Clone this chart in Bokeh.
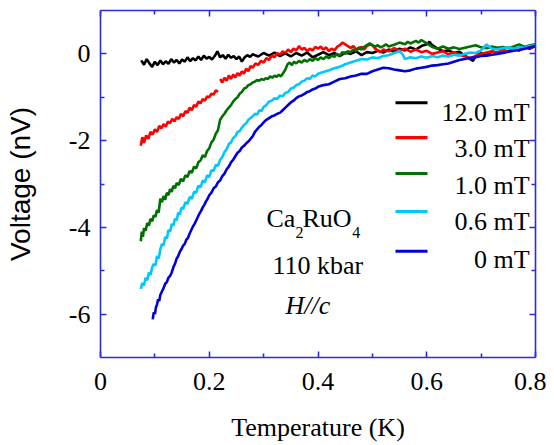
from bokeh.plotting import figure
from bokeh.models import (Range1d, LinearAxis, Label, BoxAnnotation, FixedTicker,
                          CustomJSTickFormatter, CustomLabelingPolicy)
from bokeh.embed import file_html
from bokeh.resources import INLINE

# ---------------- data ----------------
series_names = ["12.0 mT", "3.0 mT", "1.0 mT", "0.6 mT", "0 mT"]
series_colors = ["#000000", "#ff0000", "#007000", "#00c8ff", "#0000d8"]

x_ticks = [0, 0.2, 0.4, 0.6, 0.8]
x_tick_labels = ["0", "0.2", "0.4", "0.6", "0.8"]
x_minor = [0.1, 0.3, 0.5, 0.7]
y_ticks = [-6, -4, -2, 0]
y_tick_labels = ["-6", "-4", "-2", "0"]
y_minor = [-5, -3, -1]

black_pts = [
    (0.075, -0.15), (0.08, -0.25), (0.085, -0.12), (0.09, -0.22), (0.095, -0.30),
    (0.10, -0.18), (0.105, -0.26), (0.11, -0.15), (0.115, -0.24), (0.12, -0.17),
    (0.125, -0.23), (0.13, -0.12), (0.135, -0.20), (0.14, -0.14), (0.145, -0.22),
    (0.15, -0.13), (0.155, -0.18), (0.16, -0.08), (0.165, -0.17), (0.17, -0.10),
    (0.175, -0.15), (0.18, -0.06), (0.185, -0.14), (0.19, -0.04), (0.195, -0.11),
    (0.20, -0.07), (0.205, -0.13), (0.21, -0.05), (0.215, 0.06), (0.22, -0.08),
    (0.225, -0.03), (0.23, -0.11), (0.235, -0.02), (0.24, -0.09), (0.245, -0.05),
    (0.25, -0.12), (0.255, -0.06), (0.26, -0.18), (0.265, -0.08), (0.27, -0.03),
    (0.275, -0.07), (0.28, -0.01), (0.29, -0.06), (0.30, 0.02), (0.31, -0.04),
    (0.32, 0.03), (0.33, -0.05), (0.34, 0.01), (0.35, -0.06), (0.36, 0.02),
    (0.37, -0.04), (0.38, 0.03), (0.39, -0.08), (0.40, -0.02), (0.41, 0.04),
    (0.42, -0.03), (0.43, 0.02), (0.44, -0.05), (0.45, 0.03), (0.46, 0.00),
    (0.47, 0.06), (0.48, -0.03), (0.49, 0.04), (0.50, 0.02), (0.51, 0.07),
    (0.52, 0.03), (0.53, 0.10), (0.54, 0.05), (0.55, 0.12), (0.56, 0.08),
    (0.57, 0.15), (0.58, 0.10), (0.59, 0.18), (0.60, 0.22), (0.605, 0.28),
    (0.61, 0.20), (0.62, 0.12), (0.63, 0.06), (0.64, 0.08), (0.65, 0.02),
    (0.66, 0.05), (0.67, -0.04), (0.68, -0.12), (0.685, -0.16), (0.69, -0.05),
    (0.70, 0.02), (0.71, -0.03), (0.72, 0.06), (0.73, 0.02), (0.74, 0.09),
    (0.75, 0.05), (0.76, 0.12), (0.77, 0.08), (0.78, 0.16), (0.79, 0.12), (0.80, 0.19),
]

red_pts = [
    (0.074, -2.12), (0.077, -1.92), (0.080, -2.05), (0.084, -1.88), (0.088, -1.96),
    (0.092, -1.80), (0.096, -1.86), (0.100, -1.74), (0.104, -1.80), (0.108, -1.66),
    (0.112, -1.72), (0.116, -1.62), (0.120, -1.68), (0.124, -1.56), (0.128, -1.60),
    (0.132, -1.50), (0.136, -1.56), (0.140, -1.46), (0.144, -1.50), (0.148, -1.38),
    (0.152, -1.44), (0.156, -1.32), (0.160, -1.36), (0.164, -1.24), (0.168, -1.30),
    (0.172, -1.18), (0.176, -1.22), (0.180, -1.10), (0.184, -1.14), (0.188, -1.04),
    (0.192, -1.08), (0.196, -0.98), (0.200, -1.00), (0.204, -0.92), (0.208, -0.94),
    (0.212, -0.84), (0.216, -0.88), (0.218, float("nan")),
    (0.220, -0.58), (0.224, -0.66), (0.228, -0.55), (0.232, -0.62), (0.236, -0.50),
    (0.240, -0.58), (0.244, -0.48), (0.248, -0.54), (0.252, -0.44), (0.256, -0.50),
    (0.260, -0.40), (0.264, -0.46), (0.268, -0.34), (0.272, -0.40), (0.276, -0.28),
    (0.280, -0.32), (0.285, -0.22), (0.290, -0.26), (0.295, -0.16), (0.300, -0.20),
    (0.305, -0.10), (0.310, -0.14), (0.315, -0.04), (0.320, -0.08), (0.325, 0.02),
    (0.330, -0.02), (0.335, 0.06), (0.340, 0.02), (0.345, 0.10), (0.350, 0.04),
    (0.355, 0.12), (0.360, 0.08), (0.365, 0.18), (0.370, 0.10), (0.375, 0.14),
    (0.380, 0.06), (0.385, 0.12), (0.390, 0.08), (0.395, 0.16), (0.400, 0.12),
    (0.405, 0.17), (0.41, 0.10), (0.415, 0.15), (0.42, 0.06), (0.425, 0.12),
    (0.43, 0.08), (0.435, 0.16), (0.44, 0.20), (0.445, 0.26), (0.45, 0.22),
    (0.455, 0.18), (0.46, 0.14), (0.465, 0.18), (0.47, 0.10), (0.475, 0.14),
    (0.48, 0.16), (0.485, 0.10), (0.49, 0.18), (0.495, 0.22), (0.50, 0.20),
    (0.505, 0.12), (0.51, 0.08), (0.515, 0.04), (0.52, 0.10), (0.53, 0.06),
    (0.54, 0.13), (0.55, 0.08), (0.56, 0.12), (0.57, 0.05), (0.58, 0.10),
    (0.59, 0.04), (0.60, 0.07), (0.61, 0.00), (0.62, 0.03), (0.63, 0.06),
    (0.64, -0.01), (0.65, 0.04), (0.66, -0.02), (0.67, -0.06), (0.68, -0.10),
    (0.69, -0.05), (0.70, 0.00), (0.71, 0.03), (0.72, 0.06), (0.73, 0.02),
    (0.74, 0.08), (0.75, 0.05), (0.76, 0.11), (0.77, 0.09), (0.78, 0.15),
    (0.79, 0.13), (0.80, 0.18),
]

green_pts = [
    (0.074, -4.32), (0.076, -4.10), (0.078, -4.22), (0.080, -4.02), (0.083, -4.08),
    (0.086, -3.90), (0.089, -3.96), (0.092, -3.80), (0.095, -3.86), (0.098, -3.72),
    (0.101, -3.76), (0.104, -3.60), (0.107, -3.66), (0.110, -3.34), (0.113, -3.42),
    (0.116, -3.28), (0.119, -3.36), (0.122, -3.20), (0.125, -3.26), (0.128, -3.12),
    (0.131, -3.18), (0.134, -3.04), (0.137, -3.10), (0.140, -2.98), (0.144, -3.02),
    (0.148, -2.88), (0.152, -2.94), (0.156, -2.80), (0.160, -2.84), (0.164, -2.70),
    (0.168, -2.74), (0.172, -2.60), (0.176, -2.64), (0.180, -2.50), (0.184, -2.46),
    (0.188, -2.34), (0.192, -2.38), (0.196, -2.24), (0.200, -2.18), (0.204, -2.04),
    (0.208, -1.98), (0.212, -1.84), (0.216, -1.76), (0.220, -1.52), (0.224, -1.44),
    (0.228, -1.38), (0.232, -1.30), (0.236, -1.24), (0.240, -1.18), (0.244, -1.10),
    (0.248, -1.04), (0.252, -1.00), (0.256, -0.92), (0.260, -0.88), (0.264, -0.80),
    (0.268, -0.78), (0.272, -0.72), (0.276, -0.70), (0.280, -0.66), (0.284, -0.64),
    (0.288, -0.60), (0.292, -0.62), (0.296, -0.58), (0.300, -0.60), (0.304, -0.56),
    (0.308, -0.58), (0.312, -0.52), (0.316, -0.55), (0.320, -0.50), (0.324, -0.53),
    (0.328, -0.48), (0.332, -0.52), (0.336, -0.44), (0.340, -0.36), (0.344, -0.24),
    (0.348, -0.20), (0.352, -0.26), (0.356, -0.18), (0.36, -0.22), (0.365, -0.16),
    (0.37, -0.20), (0.375, -0.14), (0.38, -0.18), (0.385, -0.12), (0.39, -0.16),
    (0.395, -0.10), (0.40, -0.14), (0.405, -0.08), (0.41, -0.12), (0.415, -0.06),
    (0.42, -0.10), (0.425, -0.04), (0.43, -0.07), (0.435, 0.00), (0.44, -0.04),
    (0.445, 0.04), (0.45, 0.00), (0.455, 0.06), (0.46, 0.04), (0.465, 0.10),
    (0.47, 0.06), (0.475, 0.14), (0.48, 0.10), (0.485, 0.16), (0.49, 0.20),
    (0.495, 0.24), (0.50, 0.20), (0.505, 0.16), (0.51, 0.20), (0.515, 0.15),
    (0.52, 0.18), (0.525, 0.22), (0.53, 0.17), (0.54, 0.21), (0.55, 0.26),
    (0.56, 0.22), (0.565, 0.28), (0.57, 0.24), (0.58, 0.30), (0.585, 0.26),
    (0.59, 0.32), (0.60, 0.24), (0.61, 0.16), (0.62, 0.12), (0.63, 0.17),
    (0.64, 0.12), (0.65, 0.15), (0.66, 0.11), (0.67, 0.14), (0.68, 0.17),
    (0.69, 0.20), (0.70, 0.15), (0.71, 0.13), (0.72, 0.17), (0.73, 0.14),
    (0.74, 0.16), (0.75, 0.13), (0.76, 0.17), (0.77, 0.22), (0.78, 0.16),
    (0.79, 0.20), (0.80, 0.22),
]

cyan_pts = [
    (0.074, -5.42), (0.077, -5.28), (0.080, -5.34), (0.083, -5.16), (0.086, -5.22),
    (0.089, -5.04), (0.092, -5.10), (0.095, -4.92), (0.098, -4.84), (0.101, -4.88),
    (0.104, -4.66), (0.107, -4.72), (0.110, -4.50), (0.113, -4.38), (0.116, -4.42),
    (0.119, -4.22), (0.122, -4.26), (0.125, -4.06), (0.128, -4.10), (0.131, -3.92),
    (0.134, -3.96), (0.137, -3.80), (0.140, -3.84), (0.143, -3.66), (0.146, -3.70),
    (0.149, -3.54), (0.152, -3.58), (0.156, -3.42), (0.160, -3.46), (0.164, -3.30),
    (0.168, -3.34), (0.172, -3.18), (0.176, -3.20), (0.180, -3.04), (0.184, -3.08),
    (0.188, -2.92), (0.192, -2.96), (0.196, -2.80), (0.200, -2.84), (0.204, -2.68),
    (0.208, -2.70), (0.212, -2.56), (0.216, -2.58), (0.220, -2.44), (0.224, -2.38),
    (0.228, -2.26), (0.232, -2.20), (0.236, -2.08), (0.240, -2.04), (0.244, -1.94),
    (0.248, -1.90), (0.252, -1.80), (0.256, -1.78), (0.260, -1.70), (0.264, -1.64),
    (0.268, -1.60), (0.272, -1.52), (0.276, -1.48), (0.280, -1.44), (0.284, -1.38),
    (0.288, -1.40), (0.292, -1.30), (0.296, -1.32), (0.300, -1.22), (0.305, -1.18),
    (0.31, -1.10), (0.315, -1.08), (0.32, -1.02), (0.325, -1.04), (0.33, -0.96),
    (0.335, -0.98), (0.34, -0.90), (0.345, -0.88), (0.35, -0.80), (0.355, -0.78),
    (0.36, -0.72), (0.365, -0.70), (0.37, -0.64), (0.375, -0.62), (0.38, -0.56),
    (0.385, -0.58), (0.39, -0.50), (0.395, -0.52), (0.40, -0.46), (0.41, -0.42),
    (0.42, -0.38), (0.43, -0.33), (0.44, -0.30), (0.45, -0.24), (0.46, -0.20),
    (0.47, -0.16), (0.48, -0.12), (0.49, -0.13), (0.50, -0.08), (0.51, -0.10),
    (0.52, -0.05), (0.53, -0.03), (0.54, 0.02), (0.55, 0.06), (0.555, 0.00),
    (0.56, -0.12), (0.57, -0.08), (0.58, -0.10), (0.59, -0.06), (0.60, -0.09),
    (0.61, -0.05), (0.62, -0.08), (0.63, -0.04), (0.64, -0.06), (0.65, -0.02),
    (0.66, -0.04), (0.67, 0.00), (0.68, 0.03), (0.69, 0.02), (0.70, 0.08),
    (0.71, 0.22), (0.715, 0.16), (0.72, 0.12), (0.73, 0.10), (0.74, 0.13),
    (0.75, 0.15), (0.76, 0.12), (0.77, 0.16), (0.78, 0.14), (0.79, 0.18), (0.80, 0.20),
]

blue_pts = [
    (0.096, -6.12), (0.098, -5.96), (0.100, -6.00), (0.102, -5.84), (0.104, -5.78),
    (0.106, -5.66), (0.108, -5.70), (0.110, -5.56), (0.113, -5.48), (0.116, -5.40),
    (0.119, -5.30), (0.122, -5.26), (0.125, -5.16), (0.128, -5.12), (0.131, -5.04),
    (0.134, -4.92), (0.137, -4.84), (0.140, -4.72), (0.143, -4.66), (0.146, -4.56),
    (0.149, -4.50), (0.152, -4.42), (0.155, -4.38), (0.158, -4.28), (0.161, -4.24),
    (0.164, -4.14), (0.167, -4.06), (0.170, -3.98), (0.173, -3.92), (0.176, -3.84),
    (0.179, -3.76), (0.182, -3.68), (0.185, -3.62), (0.188, -3.54), (0.191, -3.48),
    (0.194, -3.40), (0.197, -3.34), (0.200, -3.26), (0.204, -3.20), (0.208, -3.10),
    (0.212, -3.06), (0.216, -2.96), (0.220, -2.92), (0.224, -2.82), (0.228, -2.76),
    (0.232, -2.66), (0.236, -2.60), (0.240, -2.50), (0.244, -2.44), (0.248, -2.36),
    (0.252, -2.28), (0.256, -2.24), (0.260, -2.16), (0.264, -2.12), (0.268, -2.06),
    (0.272, -2.02), (0.276, -1.96), (0.280, -1.90), (0.284, -1.80), (0.288, -1.74),
    (0.292, -1.68), (0.296, -1.64), (0.300, -1.58), (0.305, -1.52), (0.31, -1.48),
    (0.315, -1.44), (0.32, -1.42), (0.325, -1.38), (0.33, -1.36), (0.335, -1.30),
    (0.34, -1.24), (0.345, -1.18), (0.35, -1.12), (0.355, -1.08), (0.36, -1.02),
    (0.365, -0.98), (0.37, -0.96), (0.375, -0.92), (0.38, -0.88), (0.385, -0.86),
    (0.39, -0.82), (0.395, -0.80), (0.40, -0.76), (0.41, -0.72), (0.42, -0.70),
    (0.43, -0.64), (0.44, -0.58), (0.45, -0.56), (0.46, -0.52), (0.47, -0.50),
    (0.48, -0.46), (0.49, -0.46), (0.50, -0.40), (0.51, -0.36), (0.52, -0.32),
    (0.53, -0.33), (0.54, -0.36), (0.55, -0.38), (0.56, -0.40), (0.57, -0.38),
    (0.58, -0.34), (0.59, -0.32), (0.60, -0.30), (0.61, -0.27), (0.62, -0.26),
    (0.63, -0.24), (0.64, -0.22), (0.65, -0.18), (0.66, -0.14), (0.67, -0.12),
    (0.68, -0.09), (0.69, -0.08), (0.70, -0.05), (0.71, -0.04), (0.72, -0.02),
    (0.73, 0.00), (0.74, 0.02), (0.75, 0.05), (0.76, 0.07), (0.77, 0.09),
    (0.78, 0.12), (0.79, 0.15), (0.80, 0.18),
]

all_series = [black_pts, red_pts, green_pts, cyan_pts, blue_pts]

# ---------------- figure ----------------
FRAME = "#2b2be0"
SERIF = "Liberation Serif"

p = figure(frame_width=435, frame_height=347, output_backend="svg", toolbar_location=None,
           x_range=Range1d(0, 0.8), y_range=Range1d(-7, 1),
           min_border_left=100, min_border_right=11, min_border_top=10, min_border_bottom=10,
           x_axis_label="Temperature (K)", y_axis_label="Voltage (nV)")
p.grid.visible = False
p.outline_line_color = None
p.background_fill_color = "white"
p.border_fill_color = "white"

bottom_axis = p.below[0]
left_axis = p.left[0]

top_axis = LinearAxis()
right_axis = LinearAxis()
p.add_layout(top_axis, "above")
p.add_layout(right_axis, "right")

for ax in [bottom_axis, top_axis]:
    ax.ticker = FixedTicker(ticks=x_ticks, minor_ticks=x_minor)
for ax in [left_axis, right_axis]:
    ax.ticker = FixedTicker(ticks=y_ticks, minor_ticks=y_minor)

bottom_axis.major_label_overrides = {t: s for t, s in zip(x_ticks, x_tick_labels)}
left_axis.major_label_overrides = {t: s for t, s in zip(y_ticks, y_tick_labels)}

for ax in [bottom_axis, left_axis, top_axis, right_axis]:
    ax.axis_line_color = FRAME
    ax.axis_line_width = 1.6
    ax.major_tick_line_color = FRAME
    ax.major_tick_line_width = 1.6
    ax.minor_tick_line_color = FRAME
    ax.minor_tick_line_width = 1.6
    ax.major_tick_in = 6
    ax.major_tick_out = 0
    ax.minor_tick_in = 4
    ax.minor_tick_out = 0
    ax.major_label_text_font = SERIF
    ax.major_label_text_font_size = "26px"
    ax.major_label_text_color = "black"

for ax in [top_axis, right_axis]:
    ax.formatter = CustomJSTickFormatter(code="return ''")
    ax.major_label_policy = CustomLabelingPolicy(code="for (const i of indices) indices.unset(i); return indices")
    ax.major_label_standoff = 0

bottom_axis.major_label_standoff = 15
left_axis.major_label_standoff = 10

bottom_axis.axis_label_text_font = SERIF
bottom_axis.axis_label_text_font_size = "26px"
bottom_axis.axis_label_text_font_style = "normal"
bottom_axis.axis_label_text_color = "black"
bottom_axis.axis_label_standoff = 20
left_axis.axis_label_text_font = "Liberation Sans"
left_axis.axis_label_text_font_size = "28px"
left_axis.axis_label_text_font_style = "normal"
left_axis.axis_label_text_color = "black"
left_axis.axis_label_standoff = 30

for pts, color in zip(all_series, series_colors):
    xs = [a for a, b in pts]
    ys = [b for a, b in pts]
    p.line(xs, ys, line_color=color, line_width=2.6)

# legend (drawn by hand so that the labels are right-aligned, as in the original)
leg_text_x = 0.789
leg_text_y = [-1.356, -2.184, -3.034, -3.862, -4.736]
leg_line_y = [-1.126, -1.931, -2.759, -3.632, -4.552]
for name, color, ty, ly in zip(series_names, series_colors, leg_text_y, leg_line_y):
    p.add_layout(BoxAnnotation(left=0.5425, right=0.6014, top=ly + 0.035, bottom=ly - 0.035,
                               fill_color=color, fill_alpha=1.0, line_color=None, level="overlay"))
    p.add_layout(Label(x=leg_text_x, y=ty, text=name, text_align="right",
                       text_baseline="alphabetic", text_font=SERIF,
                       text_font_size="26px", text_color="black"))

# sample annotation
ann = [
    ("Ca", 0.3053, -3.793, "26px", "normal"),
    ("2", 0.3586, -4.115, "16px", "normal"),
    ("RuO", 0.3715, -3.793, "26px", "normal"),
    ("4", 0.4630, -4.115, "16px", "normal"),
    ("110 kbar", 0.3163, -4.874, "26px", "normal"),
    ("H//c", 0.3402, -5.793, "26px", "italic"),
]
for txt, ax_, ay_, fs, st in ann:
    p.add_layout(Label(x=ax_, y=ay_, text=txt, text_align="left", text_baseline="alphabetic",
                       text_font=SERIF, text_font_size=fs, text_font_style=st,
                       text_color="black"))

open("out.html", "w").write(file_html(p, INLINE))
